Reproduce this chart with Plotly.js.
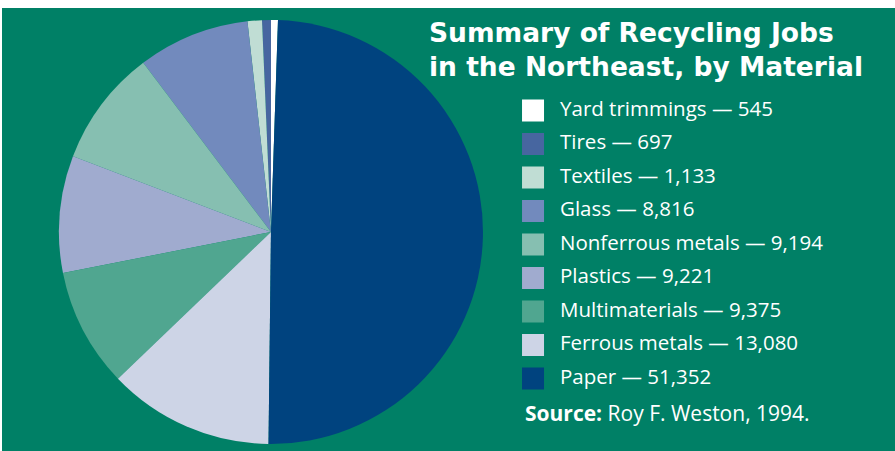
<!DOCTYPE html>
<html>
<head>
<meta charset="utf-8">
<script src="https://cdn.plot.ly/plotly-3.0.1.min.js"></script>
<style>
  html, body { margin: 0; padding: 0; background: #ffffff; width: 895px; height: 451px; overflow: hidden; }
  #chart { position: absolute; left: 2px; top: 8px; width: 893px; height: 443px; }
</style>
</head>
<body>
<div id="chart"></div>
<script>
// Data (order as listed in the legend, top to bottom)
const materials = ["Yard trimmings", "Tires", "Textiles", "Glass", "Nonferrous metals",
                   "Plastics", "Multimaterials", "Ferrous metals", "Paper"];
const jobs = [545, 697, 1133, 8816, 9194, 9221, 9375, 13080, 51352];
const colors = ["#ffffff", "#4766a0", "#c0ddd4", "#728abd", "#86bfb1",
                "#a0abcf", "#50a690", "#cdd4e6", "#00437f"];
const titleLines = ["Summary of Recycling Jobs", "in the Northeast, by Material"];
const sourceLabel = "Source:";
const sourceText = "Roy F. Weston, 1994.";

const fmt = v => v.toLocaleString("en-US");
const legendLabels = materials.map((m, i) => m + " \u2014 " + fmt(jobs[i]));
const idx = materials.map((_, i) => i);

const BG = "#008066";
const FONT = "Open Sans, Noto Sans, DejaVu Sans, sans-serif";
const TITLE_FONT = "DejaVu Sans, Open Sans, sans-serif";

const pie = {
  type: "pie",
  labels: materials,
  values: jobs,
  sort: false,
  direction: "counterclockwise",
  rotation: 0,
  marker: { colors: colors, line: { width: 0 } },
  textinfo: "none",
  hoverinfo: "label+value",
  showlegend: false,
  domain: { x: [0.0638, 0.5386], y: [0.0158, 0.9729] }
};

const legendSwatches = {
  type: "scatter",
  mode: "markers",
  x: idx.map(() => 33),
  y: idx,
  marker: { symbol: "square", size: 22, color: colors, line: { width: 0 } },
  xaxis: "x", yaxis: "y",
  hoverinfo: "skip",
  showlegend: false
};

const legendText = {
  type: "scatter",
  mode: "text",
  x: idx.map(() => 60),
  y: idx,
  text: legendLabels,
  textposition: "middle right",
  textfont: { family: FONT, size: 20.5, color: "#ffffff" },
  xaxis: "x", yaxis: "y",
  hoverinfo: "skip",
  showlegend: false
};

const annotations = [{
  text: "<b>" + titleLines.join("<br>") + "</b>",
  xref: "paper", yref: "paper",
  x: 0.4760, y: 0.9074, xanchor: "left", yanchor: "middle", align: "left",
  showarrow: false,
  font: { family: TITLE_FONT, size: 26.5, color: "#ffffff" }
}, {
  text: "<b>" + sourceLabel + "</b> " + sourceText,
  xref: "paper", yref: "paper",
  x: 0.5833, y: 0.085, xanchor: "left", yanchor: "middle",
  showarrow: false,
  font: { family: FONT, size: 21, color: "#ffffff" }
}];

const layout = {
  width: 893, height: 443,
  margin: { l: 0, r: 0, t: 0, b: 0 },
  paper_bgcolor: BG,
  plot_bgcolor: "rgba(0,0,0,0)",
  showlegend: false,
  xaxis: { domain: [0.5577, 0.9832], range: [0, 380], visible: false, fixedrange: true },
  yaxis: { domain: [0.1259, 0.8065], range: [8.5, -0.5], visible: false, fixedrange: true },
  annotations: annotations
};

Plotly.newPlot("chart", [pie, legendSwatches, legendText], layout, { displayModeBar: false, staticPlot: true });
</script>
</body>
</html>
